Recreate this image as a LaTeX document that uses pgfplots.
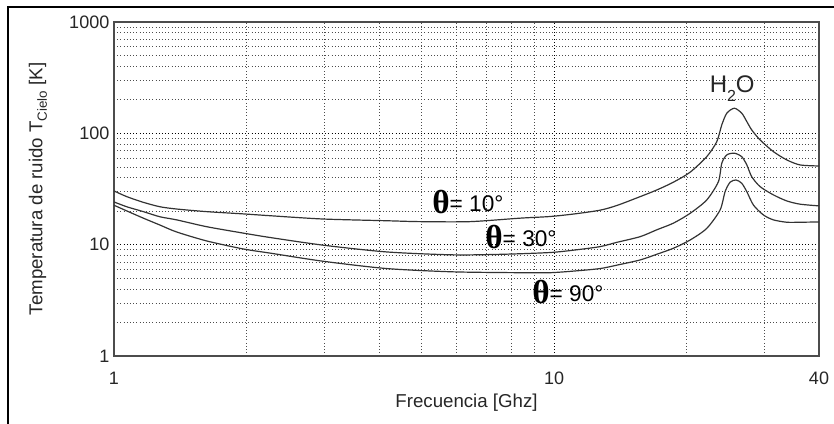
\documentclass[border=0pt]{standalone}
\usepackage{fontspec}
\setmainfont{Liberation Sans}
\newfontfamily\thetafont{Liberation Serif}
\usepackage{pgfplots}
\pgfplotsset{compat=1.18}
\pgfplotstableread{
x y
1.0 30.4
1.069 27.0
1.166 24.0
1.272 21.9
1.388 20.9
1.624 19.8
1.967 18.9
2.262 18.2
2.985 17.0
4.17 16.4
4.96 16.1
6.44 16.1
8.37 17.3
9.79 17.9
11.14 18.9
12.72 20.4
13.9 22.5
15.69 27.0
17.12 31.0
18.67 36.4
20.37 44.7
22.23 61.7
23.43 84.2
24.05 119
24.69 151.6
25.69 168.1
26.70 151.6
27.42 127.4
28.13 107.3
29.39 87.2
31.51 68.5
33.80 57.7
36.24 52.0
40 50.9
}\thetaten
\pgfplotstableread{
x y
1.0 24.2
1.069 21.9
1.166 19.8
1.272 17.8
1.388 16.7
1.624 14.5
1.967 12.7
2.262 11.6
2.985 9.9
4.17 8.6
5.90 8.1
7.66 8.2
9.79 8.5
11.14 8.95
12.72 9.6
13.9 10.5
15.69 11.8
17.12 13.6
18.67 15.6
20.37 19.1
22.23 25.2
23.63 36.8
24.05 53.9
24.69 64.0
25.69 66.3
26.70 61.7
27.42 52.0
28.13 40.8
29.39 33.2
31.51 28.0
33.80 24.7
36.24 23.1
40 22.3
}\thetathirty
\pgfplotstableread{
x y
1.0 22.6
1.069 20.1
1.166 17.3
1.272 15.0
1.388 13.0
1.624 10.8
1.967 9.15
2.262 8.4
2.985 7.1
4.17 6.1
5.90 5.7
8.37 5.6
9.79 5.6
11.14 5.8
12.72 6.1
13.9 6.55
15.69 7.29
17.12 8.2
18.67 9.28
20.37 11.0
22.23 14.0
23.84 20.5
24.47 29.9
25.12 36.4
25.92 38.1
26.70 35.6
27.42 29.9
28.38 22.7
29.90 18.5
31.51 16.7
33.80 15.9
36.24 15.9
40 16.0
}\thetaninety
\newcommand{\thlab}[1]{{\fontsize{25}{25}\selectfont\thetafont\bfseries θ}\raisebox{1.8pt}{\fontsize{17}{17}\selectfont= #1°}}
\begin{document}
\begin{tikzpicture}
\path[use as bounding box] (-85.5pt,-51pt) rectangle (540pt,267pt);
\begin{axis}[
  at={(0,0)}, anchor=south west,
  xmode=log, ymode=log,
  xmin=1, xmax=40, ymin=1, ymax=1000,
  width=528.75pt, height=250.5pt, scale only axis,
  xtick={1,10,40}, xticklabels={1,10,40},
  ytick={1,10,100,1000}, yticklabels={1,10,100,1000},
  minor xtick={2,3,4,5,6,7,8,9,20,30},
  minor ytick={2,3,4,5,6,7,8,9,20,30,40,50,60,70,80,90,200,300,400,500,600,700,800,900},
  grid=both,
  major grid style={black, dotted, line width=0.5pt},
  minor grid style={black!70, dotted, line width=0.5pt},
  major tick length=0pt, minor tick length=0pt,
  axis line style={black!70, line width=0.8pt},
  tick label style={font=\fontsize{13.5}{16}\selectfont, text=black!85},
  xticklabel style={yshift=-8.5pt},
  /pgf/number format/assume math mode=true,
  xlabel={Frecuencia [Ghz]},
  ylabel={Temperatura de ruido T\raisebox{-0.45ex}{\fontsize{10}{12}\selectfont Cielo} [K]},
  label style={font=\fontsize{14}{16}\selectfont, text=black!85},
  xlabel style={at={(axis description cs:0.5,-0.1397)}, anchor=center},
  ylabel style={at={(axis description cs:-0.108,0.5)}, anchor=center},
  clip=false,
  cycle list={{black!80}},
]
\addplot[black!80, line width=0.9pt, smooth, tension=0.45, no marks] table[x=x,y=y] {\thetaten};
\addplot[black!80, line width=0.9pt, smooth, tension=0.45, no marks] table[x=x,y=y] {\thetathirty};
\addplot[black!80, line width=0.9pt, smooth, tension=0.45, no marks] table[x=x,y=y] {\thetaninety};
\node[anchor=west, inner sep=0pt] at (axis cs:5.28,24.2) {\thlab{10}};
\node[anchor=west, inner sep=0pt] at (axis cs:6.97,11.6) {\thlab{30}};
\node[anchor=west, inner sep=0pt] at (axis cs:8.91,3.72) {\thlab{90}};
\node[anchor=base, inner sep=0pt, font=\fontsize{18}{20}\selectfont, text=black!85] at (axis cs:25.4,230.7) {H\raisebox{-0.35em}{\fontsize{12}{12}\selectfont 2}O};
\end{axis}
\draw[line width=2pt] (-79.5pt,-60pt) -- (-79.5pt,261.75pt) -- (560pt,261.75pt);
\end{tikzpicture}
\end{document}
